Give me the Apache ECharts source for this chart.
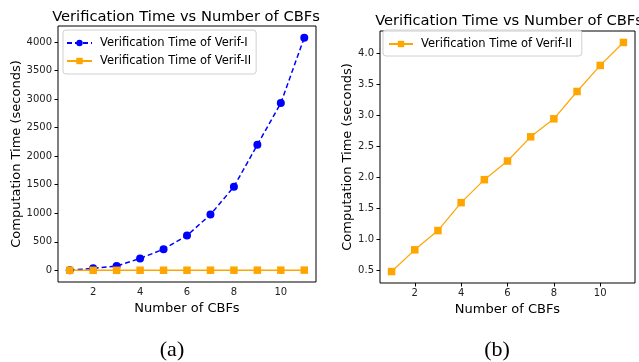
<!DOCTYPE html>
<html><head><meta charset="utf-8">
<script src="https://cdn.jsdelivr.net/npm/echarts@6/dist/echarts.min.js"></script>
<style>html,body{margin:0;padding:0;background:#fff}#c{width:639px;height:362px}</style>
</head><body><div id="c"></div>
<script>
const cbfs = [1,2,3,4,5,6,7,8,9,10,11];
const verif1 = [2, 35, 75, 209, 371, 610, 977, 1465, 2200, 2930, 4077];
const verif2 = [0.48, 0.83, 1.14, 1.59, 1.96, 2.26, 2.65, 2.94, 3.38, 3.80, 4.17];
const xTicks = [2,4,6,8,10];
const yTicksA = [0,500,1000,1500,2000,2500,3000,3500,4000];
const yTicksB = [0.5,1.0,1.5,2.0,2.5,3.0,3.5,4.0];
const titleText = 'Verification Time vs Number of CBFs';
const yName = 'Computation Time (seconds)';
const xName = 'Number of CBFs';
const name1 = 'Verification Time of Verif-I';
const name2 = 'Verification Time of Verif-II';
const name2b = 'Verification Time of Verif-II ';

function pad(arr){const lo=Math.min(...arr),hi=Math.max(...arr),m=(hi-lo)*0.05;return [lo-m,hi+m];}
const [yaMin,yaMax] = pad(verif1.concat(verif2.map(()=>0)));
const [ybMin,ybMax] = pad(verif2);
const F = 'DejaVu Sans';
const tickLbl = {fontFamily:F,fontSize:10,color:'#222'};

function xAxis(gi){return {type:'value',gridIndex:gi,min:0.5,max:11.5,
  axisLine:{show:false},splitLine:{show:false},
  axisTick:{show:true,customValues:xTicks,length:3.5,inside:false,lineStyle:{color:'#000'}},
  axisLabel:Object.assign({customValues:xTicks,margin:5},tickLbl),
  name:xName,nameLocation:'middle',nameGap:19,nameTextStyle:{fontFamily:F,fontSize:13,color:'#000'}};}
function yAxis(gi,min,max,ticks,fmt,gap){return {type:'value',gridIndex:gi,min:min,max:max,
  axisLine:{show:false},splitLine:{show:false},
  axisTick:{show:true,customValues:ticks,length:3.5,lineStyle:{color:'#000'}},
  axisLabel:Object.assign({customValues:ticks,margin:6,formatter:fmt},tickLbl),
  name:yName,nameLocation:'middle',nameGap:gap,nameTextStyle:{fontFamily:F,fontSize:13,color:'#000'}};}

const legText = {fontFamily:F,fontSize:11.5,color:'#000',padding:[0,0,0,3]};
const chart = echarts.init(document.getElementById('c'),null,{renderer:'canvas'});
chart.setOption({
  animation:false,
  backgroundColor:'#fff',
  title:[
    {text:titleText,left:181,top:5,textAlign:'center',textStyle:{fontFamily:F,fontSize:14.7,fontWeight:'normal',color:'#000'}},
    {text:titleText,left:504,top:9,textAlign:'center',textStyle:{fontFamily:F,fontSize:14.7,fontWeight:'normal',color:'#000'}},
    {text:'(a)',left:167,top:334,textAlign:'center',textStyle:{fontFamily:'Liberation Serif',fontSize:22,fontWeight:'normal',color:'#000'}},
    {text:'(b)',left:492,top:334,textAlign:'center',textStyle:{fontFamily:'Liberation Serif',fontSize:22,fontWeight:'normal',color:'#000'}}
  ],
  grid:[
    {left:58,top:26,width:258,height:256,show:true,borderColor:'#000',borderWidth:1,backgroundColor:'transparent'},
    {left:380,top:31,width:255,height:252,show:true,borderColor:'#000',borderWidth:1,backgroundColor:'transparent'}
  ],
  legend:[
    {data:[name1,name2],left:63,top:30,orient:'vertical',itemGap:6,itemWidth:25,itemHeight:8,
     padding:[7,5,7,3],borderColor:'#d0d0d0',borderWidth:1,borderRadius:3,backgroundColor:'rgba(255,255,255,0.8)',
     textStyle:legText},
    {data:[name2b],left:383,top:30,orient:'vertical',itemWidth:24,itemHeight:8,
     padding:[8,6,6,5],borderColor:'#d0d0d0',borderWidth:1,borderRadius:3,backgroundColor:'rgba(255,255,255,0.8)',
     textStyle:legText}
  ],
  xAxis:[xAxis(0),xAxis(1)],
  yAxis:[yAxis(0,yaMin,yaMax,yTicksA,v=>String(v),35),
         yAxis(1,ybMin,ybMax,yTicksB,v=>v.toFixed(1),26)],
  series:[
    {name:name1,type:'line',xAxisIndex:0,yAxisIndex:0,data:cbfs.map((x,i)=>[x,verif1[i]]),
     color:'#0000ff',symbol:'circle',symbolSize:8,lineStyle:{type:[5,3],width:1.5,color:'#0000ff'},itemStyle:{color:'#0000ff'}},
    {name:name2,type:'line',xAxisIndex:0,yAxisIndex:0,data:cbfs.map((x,i)=>[x,verif2[i]]),
     color:'#ffa500',symbol:'rect',symbolSize:7.5,lineStyle:{width:1.5,color:'#ffa500'},itemStyle:{color:'#ffa500'}},
    {name:name2b,type:'line',xAxisIndex:1,yAxisIndex:1,data:cbfs.map((x,i)=>[x,verif2[i]]),
     color:'#ffa500',symbol:'rect',symbolSize:7.5,lineStyle:{width:1.2,color:'#ffa500'},itemStyle:{color:'#ffa500'}}
  ]
});
</script></body></html>
